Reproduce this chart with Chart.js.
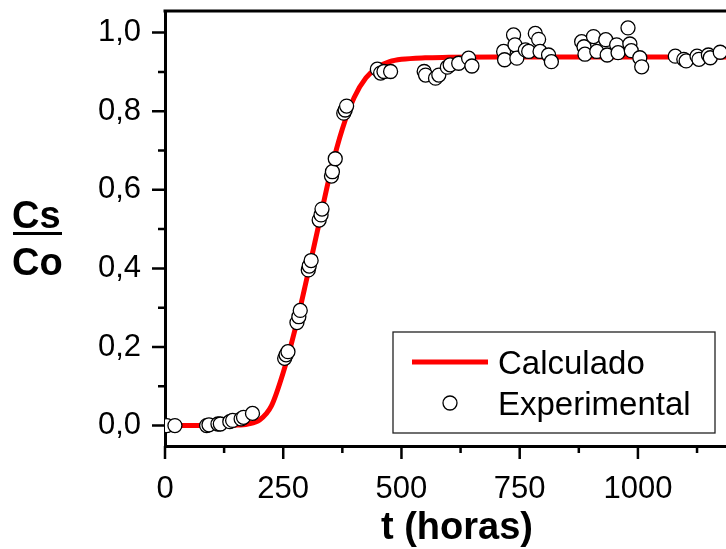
<!DOCTYPE html>
<html>
<head>
<meta charset="utf-8">
<script src="https://cdn.jsdelivr.net/npm/chart.js@4.4.0/dist/chart.umd.min.js"></script>
<style>
  html, body { margin: 0; padding: 0; background: #fff; overflow: hidden; }
  #wrap { width: 726px; height: 549px; overflow: hidden; }
</style>
</head>
<body>
<div id="wrap"><canvas id="chart" width="755" height="549"></canvas></div>
<script>
'use strict';

// curva calculada (Cs/Co x t)
const calcT = [0, 100, 150, 175, 200, 225, 250, 275, 300, 325, 350, 375, 400, 425, 450, 475, 500, 550, 600, 700, 800, 900, 1000, 1100, 1230];
const calcV = [0, 0, 0.001, 0.004, 0.014, 0.05, 0.135, 0.245, 0.375, 0.51, 0.645, 0.755, 0.835, 0.885, 0.912, 0.926, 0.932, 0.936, 0.937, 0.938, 0.938, 0.938, 0.938, 0.938, 0.938];

// pontos experimentais
const expT = [4, 21, 88, 93, 112, 117, 137, 143, 161, 166, 185,
  253, 256, 260, 279, 283, 286, 303, 305, 309, 326, 330, 332, 352, 354, 360, 378, 381, 384,
  449, 456, 463, 477, 548, 551, 572, 579, 597, 603, 621, 642, 649,
  716, 718, 737, 740, 744, 762, 769, 783, 790, 793, 811, 817,
  881, 886, 888, 906, 913, 932, 935, 955, 958, 979, 983, 986, 1004, 1008,
  1079, 1097, 1102, 1125, 1129, 1149, 1153, 1174];
const expV = [0, 0, 0, 0.002, 0.004, 0.004, 0.01, 0.013, 0.017, 0.021, 0.031,
  0.171, 0.18, 0.188, 0.262, 0.277, 0.293, 0.396, 0.406, 0.42, 0.523, 0.536, 0.551, 0.635, 0.646, 0.679, 0.795, 0.803, 0.813,
  0.907, 0.897, 0.901, 0.901, 0.901, 0.892, 0.884, 0.892, 0.912, 0.918, 0.922, 0.935, 0.915,
  0.952, 0.931, 0.994, 0.969, 0.935, 0.956, 0.952, 0.998, 0.983, 0.952, 0.943, 0.926,
  0.977, 0.964, 0.945, 0.99, 0.952, 0.982, 0.943, 0.969, 0.949, 1.012, 0.971, 0.954, 0.936, 0.913,
  0.94, 0.932, 0.928, 0.94, 0.932, 0.943, 0.936, 0.95];

// ticks
const xMajor = [0, 250, 500, 750, 1000];
const xMinor = [125, 375, 625, 875, 1125];
const yMajor = [0, 0.2, 0.4, 0.6, 0.8, 1.0];
const yMinor = [0.1, 0.3, 0.5, 0.7, 0.9];

const FONT = "'Liberation Sans', Arial, sans-serif";

// moldura, ticks, legenda e titulo do eixo y
const extras = {
  id: 'extras',
  afterDraw(chart) {
    const { ctx, chartArea: a, scales: { x, y } } = chart;
    ctx.save();
    ctx.strokeStyle = '#000';
    ctx.lineWidth = 3;
    ctx.beginPath();
    ctx.moveTo(a.left - 1.5, a.top);
    ctx.lineTo(a.right, a.top);
    ctx.stroke();

    ctx.lineWidth = 2.5;
    ctx.beginPath();
    xMajor.forEach(v => { const p = x.getPixelForValue(v); ctx.moveTo(p, a.bottom); ctx.lineTo(p, a.bottom + 13); });
    xMinor.forEach(v => { const p = x.getPixelForValue(v); ctx.moveTo(p, a.bottom); ctx.lineTo(p, a.bottom + 7); });
    yMajor.forEach(v => { const p = y.getPixelForValue(v); ctx.moveTo(a.left, p); ctx.lineTo(a.left - 13, p); });
    yMinor.forEach(v => { const p = y.getPixelForValue(v); ctx.moveTo(a.left, p); ctx.lineTo(a.left - 7, p); });
    ctx.stroke();

    // legenda
    ctx.fillStyle = '#fff';
    ctx.fillRect(393, 332, 322, 101);
    ctx.lineWidth = 1.3;
    ctx.strokeStyle = '#222';
    ctx.strokeRect(393, 332, 322, 101);
    ctx.strokeStyle = '#ff0000';
    ctx.lineWidth = 5;
    ctx.beginPath();
    ctx.moveTo(412, 362); ctx.lineTo(488, 362);
    ctx.stroke();
    ctx.fillStyle = '#fff';
    ctx.strokeStyle = '#000';
    ctx.lineWidth = 1.3;
    ctx.beginPath();
    ctx.arc(450, 403, 7, 0, Math.PI * 2);
    ctx.fill(); ctx.stroke();
    ctx.fillStyle = '#000';
    ctx.font = '33px ' + FONT;
    ctx.textBaseline = 'alphabetic';
    ctx.textAlign = 'left';
    ctx.fillText('Calculado', 498, 374);
    ctx.fillText('Experimental', 498, 415);

    // titulo eixo y
    ctx.font = 'bold 38px ' + FONT;
    ctx.fillText('Cs', 12, 228);
    ctx.fillText('Co', 12, 275);
    ctx.lineWidth = 3;
    ctx.beginPath();
    ctx.moveTo(13, 233.5); ctx.lineTo(62, 233.5);
    ctx.stroke();

    // titulo eixo x
    ctx.font = 'bold 38px ' + FONT;
    ctx.textAlign = 'center';
    ctx.fillText('t (horas)', 457, 539);
    ctx.restore();
  }
};

new Chart(document.getElementById('chart'), {
  type: 'scatter',
  data: {
    datasets: [
      {
        label: 'Experimental',
        data: expT.map((t, i) => ({ x: t, y: expV[i] })),
        pointRadius: 7,
        pointBackgroundColor: '#fff',
        pointBorderColor: '#000',
        pointBorderWidth: 1.3,
        showLine: false
      },
      {
        label: 'Calculado',
        type: 'line',
        data: calcT.map((t, i) => ({ x: t, y: calcV[i] })),
        borderColor: '#ff0000',
        borderWidth: 5,
        pointRadius: 0,
        cubicInterpolationMode: 'monotone',
        fill: false
      }
    ]
  },
  options: {
    responsive: false,
    animation: false,
    devicePixelRatio: 1,
    layout: { padding: { left: 0, top: 11, right: 6, bottom: 0 } },
    plugins: { legend: { display: false }, tooltip: { enabled: false } },
    scales: {
      x: {
        type: 'linear',
        min: 0,
        max: 1230,
        afterFit(s) { s.height = 103; s.paddingLeft = 0; s.paddingRight = 0; },
        afterBuildTicks(s) { s.ticks = xMajor.map(v => ({ value: v })); },
        grid: { display: false, drawTicks: false },
        border: { display: true, color: '#000', width: 3 },
        ticks: {
          padding: 25,
          color: '#000',
          font: { family: FONT, size: 31 },
          callback: v => String(v)
        }
      },
      y: {
        min: -0.052,
        max: 1.055,
        afterFit(s) { s.width = 165; s.paddingTop = 0; s.paddingBottom = 0; },
        afterBuildTicks(s) { s.ticks = yMajor.map(v => ({ value: v })); },
        grid: { display: false, drawTicks: false },
        border: { display: true, color: '#000', width: 3 },
        ticks: {
          padding: 24,
          color: '#000',
          font: { family: FONT, size: 31 },
          callback: v => v.toFixed(1).replace('.', ',')
        }
      }
    }
  },
  plugins: [extras]
});
</script>
</body>
</html>
